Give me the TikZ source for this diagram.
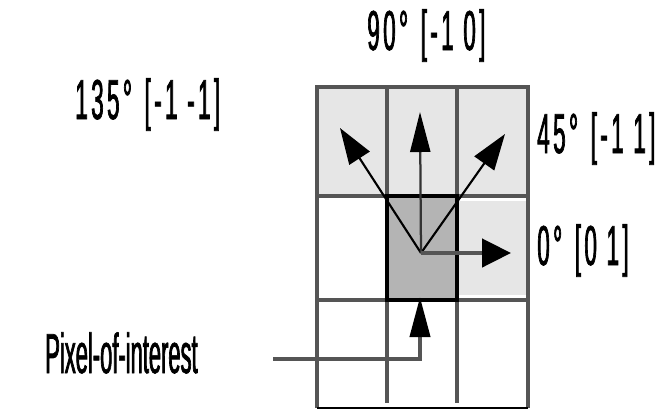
\documentclass[tikz,border=0pt]{standalone}
\usepackage{fontspec}
\newfontfamily\anglefont[FakeStretch=0.4, FakeBold=1.2, LetterSpace=6]{Liberation Sans}
\newfontfamily\poifont[FakeStretch=0.39, FakeBold=1.2]{Liberation Sans}
\usetikzlibrary{arrows.meta}
\definecolor{gridgray}{HTML}{555555}
\definecolor{lightcell}{HTML}{E6E6E6}
\definecolor{centercell}{HTML}{B4B4B4}
\begin{document}
\begin{tikzpicture}[x=0.025cm, y=-0.025cm,
  gridline/.style={draw=gridgray, line width=3.4pt},
  diagarrow/.style={-{Triangle[length=0.9cm, width=0.6cm, color=black]}, line width=1.5pt, black},
  uparrow/.style={-{Triangle[length=1.0cm, width=0.5cm, color=black]}, line width=1.6pt},
  sidearrow/.style={-{Triangle[length=0.72cm, width=0.7cm, color=black]}, line width=2.8pt, draw=gridgray},
  anglelabel/.style={font=\anglefont\fontsize{40}{42}\selectfont, inner sep=0pt},
  poilabel/.style={font=\poifont\fontsize{40}{42}\selectfont, inner sep=0pt}]
  \useasboundingbox (0,0) rectangle (666,410);
  % cell fills
  \fill[lightcell] (317,87) rectangle (528,196);
  \fill[lightcell] (457,201) rectangle (528,295);
  \fill[centercell] (387,196) rectangle (457,300);
  % grid
  \draw[gridline] (387,87) -- (387,403);
  \draw[gridline] (457,87) -- (457,403);
  \draw[gridline] (317,196) -- (528,196);
  \draw[gridline] (317,300) -- (528,300);
  \draw[gridline] (317,87) -- (528,87) -- (528,408);
  \draw[gridline] (317,85.3) -- (317,408);
  \draw[black, line width=1.4pt] (317,408) -- (528,408);
  \draw[black, line width=2.2pt] (387,196) rectangle (457,300);
  % directions
  \coordinate (c) at (421,253);
  \coordinate (t135) at (340,128);
  \coordinate (t90) at (420,112);
  \coordinate (t45) at (505,134);
  \coordinate (t0) at (511,253);
  \coordinate (cb) at (420,297);
  \coordinate (poi) at (273,359);
  \draw[diagarrow] (c) -- (t135);
  \draw[diagarrow] (c) -- (t45);
  \draw[uparrow, draw=black!80] (c) -- (t90);
  \draw[sidearrow] (c) -- (t0);
  \draw[uparrow, line width=2.8pt, draw=gridgray, line join=miter] (poi) -| (cb);
  % labels
  \node[anglelabel, anchor=base west] (l90) at (367,50) {90°\hspace{9pt}[-1 0]};
  \node[anglelabel, anchor=base west] (l135) at (75,119) {135°\hspace{9pt}[-1 -1]};
  \node[anglelabel, anchor=base west] (l45) at (537,153) {45°\hspace{9pt}[-1 1]};
  \node[anglelabel, anchor=base west] (l0) at (537,265) {0°\hspace{9pt}[0 1]};
  \node[poilabel, anchor=base west] (lpoi) at (45,373) {Pixel-of-interest};
\end{tikzpicture}
\end{document}
